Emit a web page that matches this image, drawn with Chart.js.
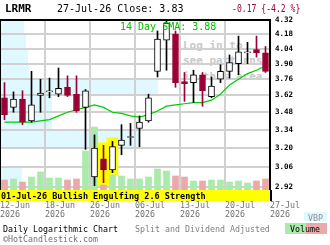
<!DOCTYPE html>
<html>
<head>
<meta charset="utf-8">
<title>LRMR daily chart</title>
<script src="https://cdn.jsdelivr.net/npm/chart.js@4.4.1/dist/chart.umd.min.js"></script>
<style>
  html, body { margin: 0; padding: 0; background: #fff; }
  #box { position: relative; width: 330px; height: 245px; overflow: hidden;
         font-family: "DejaVu Sans Mono", monospace; }
  #box div { position: absolute; white-space: nowrap; line-height: 1; }
  #chart { position: absolute; left: 0; top: 0; z-index: 1; }
  .wm { z-index: 0; color: #c8c8c8; font-weight: bold; font-size: 11px; left: 183px; }
  .over { z-index: 2; }
</style>
</head>
<body>
<div id="box">
  <div class="wm" style="top:40px">Log in to</div>
  <div class="wm" style="top:55px">see patterns</div>
  <div class="wm" style="top:70.5px">in this area</div>
  <canvas id="chart" width="330" height="245"></canvas>

  <div class="over" style="left:5px;top:3px;font-size:11px;font-weight:bold">LRMR</div>
  <div class="over" style="left:57px;top:4px;font-size:10px">27-Jul-26 Close: 3.83</div>
  <div class="over" style="left:232px;top:4px;font-size:10px;color:#990033;transform:scaleX(0.81);transform-origin:0 0">-0.17 {-4.2 %}</div>
  <div class="over" style="left:120px;top:22px;font-size:10px;color:#00c000">14 Day SMA: 3.88</div>

  <div class="over" style="left:0;top:190px;width:270px;height:10.5px;background:#ffff00;border-right:2px solid #000"></div>
  <div class="over" style="left:1px;top:191.5px;font-size:8.5px;font-weight:bold">01-Jul-26 Bullish Engulfing 2.6 Strength</div>

  <div class="over" style="left:3px;top:224.7px;font-size:8.3px">Daily Logarithmic Chart</div>
  <div class="over" style="left:135px;top:224.7px;font-size:8.3px;color:#808080">Split and Dividend Adjusted</div>
  <div class="over" style="left:3px;top:235px;font-size:8.3px;color:#707070">©HotCandlestick.com</div>

  <div class="over" style="left:304px;top:212px;width:23px;height:9px;background:#e0f8ff"></div>
  <div class="over" style="left:308px;top:213.5px;font-size:8.3px;color:#909090">VBP</div>
  <div class="over" style="left:285px;top:223px;width:21px;height:11px;background:#aaeaaa"></div>
  <div class="over" style="left:306px;top:223px;width:21px;height:11px;background:#eaaaaa"></div>
  <div class="over" style="left:290px;top:224.7px;font-size:8.3px">Volume</div>
</div>

<script>
// LRMR daily candles, 12-Jun-26 .. 27-Jul-26
const dates = ['12-Jun', '15-Jun', '16-Jun', '17-Jun', '18-Jun', '22-Jun', '23-Jun', '24-Jun', '25-Jun', '26-Jun',
               '29-Jun', '30-Jun', '01-Jul', '02-Jul', '06-Jul', '07-Jul', '08-Jul', '09-Jul', '10-Jul', '13-Jul',
               '14-Jul', '15-Jul', '16-Jul', '17-Jul', '20-Jul', '21-Jul', '22-Jul', '23-Jul', '24-Jul', '27-Jul'];
const open  = [3.60, 3.52, 3.59, 3.41, 3.62, 3.65, 3.63, 3.69, 3.63, 3.52,
               2.99, 3.12, 3.04, 3.22, 3.28, 3.35, 3.41, 3.83, 4.12, 4.18,
               3.74, 3.73, 3.80, 3.61, 3.76, 3.83, 3.90, 4.00, 4.03, 4.00];
const high  = [3.73, 3.65, 3.66, 3.83, 3.76, 3.77, 3.86, 3.79, 3.79, 3.67,
               3.30, 3.22, 3.25, 3.38, 3.39, 3.45, 3.63, 4.21, 4.31, 4.21,
               3.82, 3.84, 3.82, 3.78, 3.89, 3.98, 4.16, 4.10, 4.16, 4.06];
const low   = [3.42, 3.48, 3.38, 3.40, 3.48, 3.60, 3.61, 3.61, 3.48, 3.19,
               2.93, 2.95, 3.02, 3.15, 3.22, 3.21, 3.40, 3.78, 3.84, 3.69,
               3.57, 3.56, 3.53, 3.60, 3.73, 3.77, 3.80, 3.90, 3.96, 3.82];
const close = [3.46, 3.59, 3.40, 3.54, 3.64, 3.66, 3.68, 3.62, 3.49, 3.66,
               3.20, 3.04, 3.21, 3.26, 3.28, 3.40, 3.60, 4.13, 4.29, 3.73,
               3.72, 3.80, 3.66, 3.70, 3.83, 3.91, 4.01, 4.01, 4.00, 3.83];
const volume = [10000, 11000, 8000, 13000, 18000, 12000, 12000, 10000, 11000, 39000,
                63000, 5000, 15000, 14000, 11000, 11000, 13000, 21000, 19000, 14000,
                13000, 9000, 9000, 10000, 10000, 8000, 9000, 7000, 9000, 11000];
const sma14 = [3.40, 3.40, 3.40, 3.40, 3.41, 3.42, 3.45, 3.48, 3.50, 3.52,
               3.54, 3.52, 3.48, 3.47, 3.45, 3.44, 3.46, 3.49, 3.53, 3.54,
               3.55, 3.56, 3.56, 3.58, 3.63, 3.71, 3.76, 3.81, 3.84, 3.88];

const priceTicks = [4.32, 4.18, 4.04, 3.90, 3.76, 3.62, 3.48, 3.34, 3.20, 3.06, 2.92];
const weekTicks = [-0.5, 4.5, 9.5, 14.5, 19.5, 24.5, 29.5];
const weekLabels = [['12-Jun', '2026'], ['18-Jun', '2026'], ['26-Jun', '2026'], ['06-Jul', '2026'],
                    ['13-Jul', '2026'], ['20-Jul', '2026'], ['27-Jul', '2026']];

// volume by price, one value per 0.14 band from the top
const vbpVolume = [24, 26, 28, 29, 158, 52, 52, 140, 0, 22];

// bullish engulfing highlight
const patternDays = [11, 12];
const patternLow = [2.93, 3.00];
const patternHigh = [3.24, 3.28];

const RED = '#990033';
const GRID = '#d0d0d0';
Chart.defaults.font.family = '"DejaVu Sans Mono", monospace';

const up = close.map((c, i) => c >= open[i]);
const idx = dates.map((d, i) => i);

const vbpLine = [];
vbpVolume.forEach((v, k) => {
  vbpLine.push({x: v, y: priceTicks[k]});
  vbpLine.push({x: v, y: priceTicks[k + 1]});
});

const frame = {
  display: true,
  offset: false,
  ticks: {display: false},
  grid: {display: false, drawTicks: false},
  border: {display: true, color: '#000', width: 2, z: 1}
};

new Chart(document.getElementById('chart'), {
  type: 'bar',
  data: {
    datasets: [
      {
        type: 'line', label: 'VBP', data: vbpLine, indexAxis: 'y',
        xAxisID: 'xVbp', yAxisID: 'y',
        borderWidth: 0, pointRadius: 0, tension: 0,
        fill: {value: 0}, backgroundColor: '#e0f8ff', order: 10
      },
      {
        label: 'Pattern', data: patternDays.map((d, k) => ({x: d, y: [patternLow[k], patternHigh[k]]})),
        xAxisID: 'x', yAxisID: 'y',
        backgroundColor: '#ffff00', barThickness: 11, grouped: false, order: 9
      },
      {
        label: 'Volume', data: idx.map(i => ({x: i, y: volume[i]})),
        xAxisID: 'x', yAxisID: 'yVol',
        backgroundColor: idx.map(i => up[i] ? '#aaeaaa' : '#eaaaaa'),
        barThickness: 6, grouped: false, order: 8
      },
      {
        type: 'line', label: '14 Day SMA', data: idx.map(i => ({x: i, y: sma14[i]})),
        xAxisID: 'x', yAxisID: 'y',
        borderColor: '#00cc00', borderWidth: 1.2, pointRadius: 0, tension: 0, fill: false, order: 7
      },
      {
        label: 'High-Low', data: idx.map(i => ({x: i, y: [low[i], high[i]]})),
        xAxisID: 'x', yAxisID: 'y',
        backgroundColor: idx.map(i => up[i] ? '#000' : RED),
        barThickness: 1, grouped: false, order: 2
      },
      {
        label: 'Open-Close', data: idx.map(i => ({x: i, y: [open[i], close[i]]})),
        xAxisID: 'x', yAxisID: 'y',
        backgroundColor: idx.map(i => up[i] ? '#fff' : RED),
        borderColor: idx.map(i => up[i] ? '#000' : RED),
        borderWidth: 1, borderSkipped: false, minBarLength: 1,
        barThickness: 6, grouped: false, order: 1
      }
    ]
  },
  options: {
    responsive: false,
    animation: false,
    devicePixelRatio: 1,
    layout: {padding: {left: 0, right: 0, top: 20, bottom: 25}},
    plugins: {
      legend: {display: false},
      tooltip: {enabled: false},
      filler: {drawTime: 'beforeDraw'}
    },
    scales: {
      x: {
        type: 'linear', min: -0.5, max: 29.5, offset: false,
        grid: {color: GRID, lineWidth: 2, drawTicks: false, offset: false},
        border: {display: false},
        afterBuildTicks: s => { s.ticks = weekTicks.map(v => ({value: v})); },
        afterFit: s => { s.height = 30; s.paddingLeft = 0; s.paddingRight = 0; },
        ticks: {
          autoSkip: false, maxRotation: 0, align: 'start', padding: 12, color: '#707070',
          font: {size: 8.3, lineHeight: 1},
          callback: (v, i) => weekLabels[i]
        }
      },
      xTop: Object.assign({type: 'linear', position: 'top', min: 0, max: 1,
                           afterFit: s => { s.height = 0; }}, frame),
      xVbp: {type: 'linear', display: false, min: 0, max: 270, offset: false},
      y: {
        type: 'logarithmic', position: 'right', min: 2.92, max: 4.32,
        grid: {color: GRID, lineWidth: 2, drawTicks: false},
        border: {display: true, color: '#000', width: 2, z: 1},
        afterBuildTicks: s => { s.ticks = priceTicks.map(v => ({value: v})); },
        afterFit: s => { s.width = 60; },
        ticks: {
          padding: 5, color: '#000', font: {size: 7.5, weight: 'bold'},
          callback: v => Number(v).toFixed(2)
        }
      },
      yLeft: Object.assign({type: 'linear', position: 'left', min: 0, max: 1,
                            afterFit: s => { s.width = 0; }}, frame),
      yVol: {type: 'linear', display: false, min: 0, max: 170000}
    }
  }
});
</script>
</body>
</html>
